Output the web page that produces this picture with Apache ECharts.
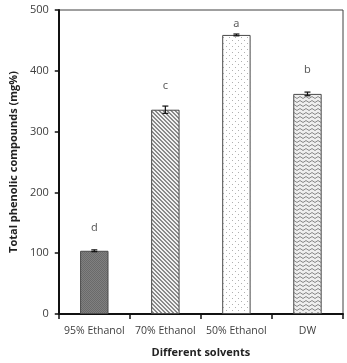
<!DOCTYPE html>
<html>
<head>
    <meta charset="utf-8"/>
    <title>Total phenolic compounds</title>
    <script src="https://cdn.jsdelivr.net/npm/echarts@6/dist/echarts.min.js"></script>
    <style>
        html, body { margin: 0; padding: 0; background: #fff; }
        #chart { width: 347px; height: 363px; }
    </style>
</head>
<body>
<div id="chart"></div>
<script>
    // data
    var categories = ['95% Ethanol', '70% Ethanol', '50% Ethanol', 'DW'];
    var values = [104, 336, 459, 362];
    var errors = [1.5, 6, 1.5, 3];
    var letters = ['d', 'c', 'a', 'b'];
    var letterAt = [142, 375, 477, 402];
    var yTicks = [0, 100, 200, 300, 400, 500];

    // small canvas tiles for the excel-like fills
    function tile(w, h, draw) {
        var c = document.createElement('canvas');
        c.width = w; c.height = h;
        var ctx = c.getContext('2d');
        draw(ctx);
        return { image: c, repeat: 'repeat' };
    }

    var fills = [
        // dark gray fine grid
        tile(2, 2, function (ctx) {
            ctx.fillStyle = '#808080'; ctx.fillRect(0, 0, 2, 2);
            ctx.fillStyle = '#6a6a6a'; ctx.fillRect(0, 0, 1, 1); ctx.fillRect(1, 1, 1, 1);
        }),
        // diagonal hatching
        tile(4, 4, function (ctx) {
            ctx.fillStyle = '#f2f2f2'; ctx.fillRect(0, 0, 4, 4);
            ctx.fillStyle = '#8a8a8a';
            for (var i = 0; i < 4; i++) {
                ctx.fillRect(i, i, 1, 1);
                ctx.fillRect((i + 1) % 4, i, 1, 1);
            }
        }),
        // sparse dots
        tile(6, 6, function (ctx) {
            ctx.fillStyle = '#ffffff'; ctx.fillRect(0, 0, 6, 6);
            ctx.fillStyle = '#b0b0b0';
            ctx.fillRect(1, 1, 1, 1);
            ctx.fillRect(4, 4, 1, 1);
        }),
        // zigzag waves
        tile(6, 4, function (ctx) {
            ctx.fillStyle = '#eeeeee'; ctx.fillRect(0, 0, 6, 4);
            ctx.strokeStyle = '#888888'; ctx.lineWidth = 1;
            ctx.beginPath();
            ctx.moveTo(0, 0.5); ctx.lineTo(3, 2.5); ctx.lineTo(6, 0.5);
            ctx.stroke();
        })
    ];

    var chart = echarts.init(document.getElementById('chart'));

    var option = {
        animation: false,
        grid: {
            left: 50, right: 4, top: 10, bottom: 46,
            show: true, borderColor: '#404040', borderWidth: 1
        },
        xAxis: {
            type: 'category',
            data: categories,
            name: 'Different solvents',
            nameLocation: 'middle',
            nameGap: 33,
            nameTextStyle: { fontFamily: 'Open Sans', fontWeight: 'bold', fontSize: 11, color: '#222' },
            axisLine: { lineStyle: { color: '#111', width: 2 } },
            axisTick: { show: true, length: 5, lineStyle: { color: '#111', width: 1.5 } },
            axisLabel: { interval: 0, fontFamily: 'Open Sans', fontSize: 10.5, color: '#404040', margin: 12 }
        },
        yAxis: {
            type: 'value',
            min: 0, max: 500, interval: 100,
            name: 'Total phenolic compounds (mg%)',
            nameLocation: 'middle',
            nameGap: 36,
            nameTextStyle: { fontFamily: 'Open Sans', fontWeight: 'bold', fontSize: 11, color: '#222' },
            axisLine: { show: true, lineStyle: { color: '#111', width: 2 } },
            axisTick: { show: true, length: 4, lineStyle: { color: '#111', width: 1.5 } },
            splitLine: { show: false },
            axisLabel: {
                fontFamily: 'Open Sans', fontSize: 11, color: '#404040', margin: 10,
                formatter: function (v) { return yTicks.indexOf(v) >= 0 ? String(v) : ''; }
            }
        },
        series: [
            {
                type: 'bar',
                barWidth: '40%',
                data: values.map(function (v, i) {
                    return { value: v, itemStyle: { color: fills[i] } };
                }),
                itemStyle: { borderColor: '#4a4a4a', borderWidth: 1 }
            },
            {
                // error bars
                type: 'custom',
                data: values.map(function (v, i) { return [i, v - errors[i], v + errors[i]]; }),
                renderItem: function (params, api) {
                    var lo = api.coord([api.value(0), api.value(1)]);
                    var hi = api.coord([api.value(0), api.value(2)]);
                    var hw = 3;
                    var st = { stroke: '#111', lineWidth: 1.2 };
                    return {
                        type: 'group',
                        children: [
                            { type: 'line', shape: { x1: lo[0], y1: lo[1], x2: hi[0], y2: hi[1] }, style: st },
                            { type: 'line', shape: { x1: lo[0] - hw, y1: lo[1], x2: lo[0] + hw, y2: lo[1] }, style: st },
                            { type: 'line', shape: { x1: hi[0] - hw, y1: hi[1], x2: hi[0] + hw, y2: hi[1] }, style: st }
                        ]
                    };
                },
                z: 5
            },
            {
                // significance letters
                type: 'scatter',
                symbolSize: 0,
                data: letterAt.map(function (v, i) { return [i, v]; }),
                label: {
                    show: true,
                    position: 'inside',
                    fontFamily: 'Noto Sans',
                    fontSize: 11,
                    color: '#333',
                    formatter: function (p) { return letters[p.dataIndex]; }
                }
            }
        ]
    };

    chart.setOption(option);
    window.onresize = function () { chart.resize(); };
</script>
</body>
</html>
